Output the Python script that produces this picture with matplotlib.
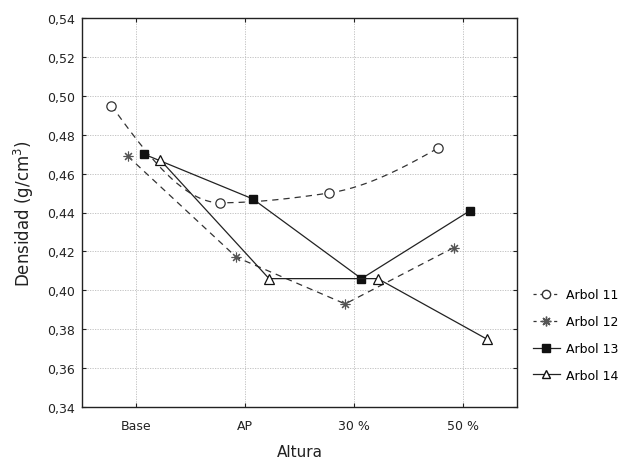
import numpy as np
import matplotlib
matplotlib.use("Agg")
import matplotlib.pyplot as plt
from matplotlib.lines import Line2D

plt.rcParams['font.family'] = ['DejaVu Sans']

categories = ["Base", "AP", "30 %", "50 %"]
series_names = ["Arbol 11", "Arbol 12", "Arbol 13", "Arbol 14"]
arbol11 = [0.495, 0.445, 0.450, 0.473]
arbol12 = [0.469, 0.417, 0.393, 0.422]
arbol13 = [0.470, 0.447, 0.406, 0.441]
arbol14 = [0.467, 0.406, 0.406, 0.375]
y_ticks = [0.34, 0.36, 0.38, 0.40, 0.42, 0.44, 0.46, 0.48, 0.50, 0.52, 0.54]

offsets = [-0.23, -0.08, 0.07, 0.22]


def pchip(x, y, n=200):
    """Monotone cubic (Fritsch-Carlson) curve through the data points."""
    x = np.asarray(x, float); y = np.asarray(y, float)
    h = np.diff(x); delta = np.diff(y) / h
    k = len(x)
    d = np.zeros(k)
    for i in range(1, k - 1):
        if delta[i - 1] * delta[i] > 0:
            w1 = 2 * h[i] + h[i - 1]; w2 = h[i] + 2 * h[i - 1]
            d[i] = (w1 + w2) / (w1 / delta[i - 1] + w2 / delta[i])
        else:
            d[i] = 0.0
    d[0] = ((2 * h[0] + h[1]) * delta[0] - h[0] * delta[1]) / (h[0] + h[1])
    if np.sign(d[0]) != np.sign(delta[0]):
        d[0] = 0
    d[-1] = ((2 * h[-1] + h[-2]) * delta[-1] - h[-1] * delta[-2]) / (h[-1] + h[-2])
    if np.sign(d[-1]) != np.sign(delta[-1]):
        d[-1] = 0
    xs = np.linspace(x[0], x[-1], n)
    ys = np.empty_like(xs)
    for j, xv in enumerate(xs):
        i = min(np.searchsorted(x, xv, side='right') - 1, k - 2)
        t = (xv - x[i]) / h[i]
        h00 = 2 * t**3 - 3 * t**2 + 1
        h10 = t**3 - 2 * t**2 + t
        h01 = -2 * t**3 + 3 * t**2
        h11 = t**3 - t**2
        ys[j] = h00 * y[i] + h10 * h[i] * d[i] + h01 * y[i + 1] + h11 * h[i] * d[i + 1]
    return xs, ys


fig = plt.figure(figsize=(6.25, 4.64), dpi=100)
ax = fig.add_axes([82 / 625, 1 - 408 / 464, (517 - 82) / 625, (408 - 19) / 464])

xb = np.arange(len(categories))
dash = (0, (5, 4))
dark = '#222222'

# Arbol 11: smooth dashed curve with open circles
x11 = xb + offsets[0]
xs, ys = pchip(x11, arbol11)
ax.plot(xs, ys, color='#333333', lw=0.9, ls=dash)
ax.plot(x11, arbol11, ls='none', marker='o', ms=6.7, mfc='white', mec='#333333', mew=0.9)

# Arbol 12
x12 = xb + offsets[1]
ax.plot(x12, arbol12, color='#333333', lw=0.9, ls=dash, marker=(8, 2, 0), ms=7,
        mec='#555555', mew=0.8)

# Arbol 13
x13 = xb + offsets[2]
ax.plot(x13, arbol13, color=dark, lw=0.9, marker='s', ms=5.5, mfc='#111111', mec='#111111')

# Arbol 14
x14 = xb + offsets[3]
ax.plot(x14, arbol14, color=dark, lw=0.9, marker='^', ms=6.5, mfc='white', mec='#111111', mew=0.9)

ax.set_xlim(-0.5, 3.5)
ax.set_ylim(0.34, 0.54)
ax.set_xticks(xb)
ax.set_xticklabels(categories, fontsize=9)
ax.set_yticks(y_ticks)
ax.set_yticklabels([f"{v:.2f}".replace('.', ',') for v in y_ticks], fontsize=9)
ax.tick_params(direction='in', length=3, width=0.8, top=True, right=True, colors=dark,
               labelcolor=dark)
ax.tick_params(axis='y', pad=5)
ax.tick_params(axis='x', pad=9)
ax.grid(True, color='#bbbbbb', ls=(0, (1.5, 1.5)), lw=0.6)
ax.set_axisbelow(True)
for s in ax.spines.values():
    s.set_color(dark)
    s.set_linewidth(1.0)

ax.set_xlabel("Altura", fontsize=11, labelpad=8, color=dark)
ax.set_ylabel("Densidad (g/cm$^3$)", fontsize=12, labelpad=8, color=dark)

handles = [
    Line2D([], [], color='#333333', lw=0.9, ls=(0, (2.5, 3)), marker='o', ms=6, mfc='white', mec='#333333'),
    Line2D([], [], color='#333333', lw=0.9, ls=(0, (2.5, 3)), marker=(8, 2, 0), ms=7, mec='#555555'),
    Line2D([], [], color=dark, lw=0.9, marker='s', ms=5.5, mfc='#111111', mec='#111111'),
    Line2D([], [], color=dark, lw=0.9, marker='^', ms=6, mfc='white', mec='#111111'),
]
fig.legend(handles, series_names, loc='center left', bbox_to_anchor=(522 / 625, 1 - 336 / 464),
           frameon=False, fontsize=9, handlelength=2.1, handletextpad=0.5, labelspacing=1.1)

fig.savefig("out.png", dpi=100)
